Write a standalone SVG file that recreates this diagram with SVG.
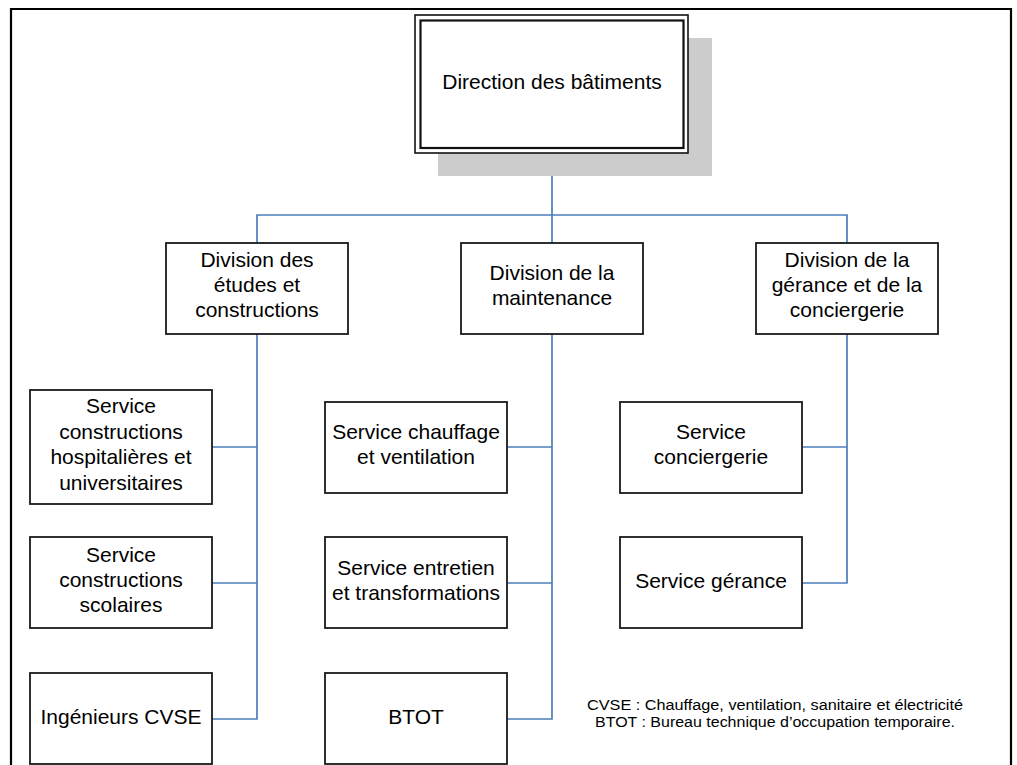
<svg xmlns="http://www.w3.org/2000/svg" width="1017" height="765" viewBox="0 0 1017 765">
<style>
.box{fill:#fff;stroke:#1a1a1a;stroke-width:1.8}
.lbl{font-family:"Liberation Sans",Arial,sans-serif;font-size:21px;fill:#000;text-anchor:middle}
.note{font-family:"Liberation Sans",Arial,sans-serif;font-size:14px;fill:#000;text-anchor:middle}
.con{fill:none;stroke:#4a7ebb;stroke-width:1.7}
</style>
<rect width="1017" height="765" fill="#fff"/>
<path d="M11,780 V9 H1011 V780" fill="none" stroke="#000" stroke-width="2.2"/>

<g id="connectors">
<path class="con" d="M552,153 V243"/>
<path class="con" d="M257,243 V215 H847 V243"/>
<path class="con" d="M257,334 V719 H212"/>
<path class="con" d="M212,447 H257"/>
<path class="con" d="M212,583 H257"/>
<path class="con" d="M552,334 V719 H507"/>
<path class="con" d="M507,447 H552"/>
<path class="con" d="M507,583 H552"/>
<path class="con" d="M847,334 V583 H802"/>
<path class="con" d="M802,447 H847"/>
</g>

<g id="direction">
<rect x="438" y="38" width="274" height="138" fill="#cccccc"/>
<rect x="415" y="15" width="273" height="138" fill="#fff" stroke="#111" stroke-width="1.6"/>
<rect x="420.5" y="20.5" width="263" height="127.5" fill="none" stroke="#111" stroke-width="2.2"/>
<text class="lbl" x="552" y="89">Direction des bâtiments</text>
</g>

<g id="div-etudes">
<rect class="box" x="166" y="243" width="182" height="91"/>
<text class="lbl" x="257" y="267">Division des</text>
<text class="lbl" x="257" y="292">études et</text>
<text class="lbl" x="257" y="317">constructions</text>
</g>
<g id="div-maintenance">
<rect class="box" x="461" y="243" width="182" height="91"/>
<text class="lbl" x="552" y="280">Division de la</text>
<text class="lbl" x="552" y="305">maintenance</text>
</g>
<g id="div-gerance">
<rect class="box" x="756" y="243" width="182" height="91"/>
<text class="lbl" x="847" y="267">Division de la</text>
<text class="lbl" x="847" y="292">gérance et de la</text>
<text class="lbl" x="847" y="317">conciergerie</text>
</g>

<g id="svc-hospitalieres">
<rect class="box" x="30" y="390" width="182" height="114"/>
<text class="lbl" x="121" y="413">Service</text>
<text class="lbl" x="121" y="438.5">constructions</text>
<text class="lbl" x="121" y="464">hospitalières et</text>
<text class="lbl" x="121" y="489.5">universitaires</text>
</g>
<g id="svc-scolaires">
<rect class="box" x="30" y="537" width="182" height="91"/>
<text class="lbl" x="121" y="561.5">Service</text>
<text class="lbl" x="121" y="587">constructions</text>
<text class="lbl" x="121" y="612">scolaires</text>
</g>
<g id="ing-cvse">
<rect class="box" x="30" y="673" width="182" height="91"/>
<text class="lbl" x="121" y="723.5">Ingénieurs CVSE</text>
</g>

<g id="svc-chauffage">
<rect class="box" x="325" y="402" width="182" height="91"/>
<text class="lbl" x="416" y="439">Service chauffage</text>
<text class="lbl" x="416" y="464">et ventilation</text>
</g>
<g id="svc-entretien">
<rect class="box" x="325" y="537" width="182" height="91"/>
<text class="lbl" x="416" y="575">Service entretien</text>
<text class="lbl" x="416" y="600">et transformations</text>
</g>
<g id="btot">
<rect class="box" x="325" y="673" width="182" height="91"/>
<text class="lbl" x="416" y="724">BTOT</text>
</g>

<g id="svc-conciergerie">
<rect class="box" x="620" y="402" width="182" height="91"/>
<text class="lbl" x="711" y="439">Service</text>
<text class="lbl" x="711" y="464">conciergerie</text>
</g>
<g id="svc-gerance">
<rect class="box" x="620" y="537" width="182" height="91"/>
<text class="lbl" x="711" y="587.5">Service gérance</text>
</g>

<g id="legend">
<text class="note" x="775" y="710" textLength="376" lengthAdjust="spacingAndGlyphs">CVSE : Chauffage, ventilation, sanitaire et électricité</text>
<text class="note" x="775" y="727" textLength="360" lengthAdjust="spacingAndGlyphs">BTOT : Bureau technique d’occupation temporaire.</text>
</g>
</svg>
